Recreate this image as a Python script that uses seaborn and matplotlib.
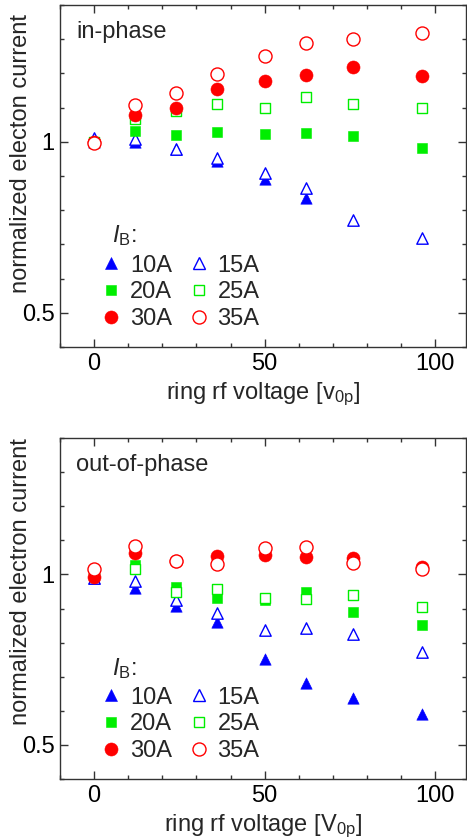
import numpy as np
import matplotlib
matplotlib.use("Agg")
import matplotlib.pyplot as plt
from matplotlib.lines import Line2D
from matplotlib.ticker import MultipleLocator
import seaborn as sns

# ---- data ----
voltage = [0, 12, 24, 36, 50, 62, 76, 96]
labels = ["10A", "15A", "20A", "25A", "30A", "35A"]

in_10 = [1.00, 0.998, 0.98, 0.945, 0.892, 0.836, np.nan, np.nan]
in_15 = [1.012, 1.008, 0.98, 0.954, 0.91, 0.864, 0.772, 0.72]
in_20 = [1.00, 1.032, 1.019, 1.028, 1.022, 1.026, 1.017, 0.983]
in_25 = [1.00, 1.066, 1.091, 1.11, 1.099, 1.131, 1.11, 1.10]
in_30 = [1.00, 1.078, 1.10, 1.155, 1.178, 1.196, 1.218, 1.193]
in_35 = [0.997, 1.108, 1.142, 1.199, 1.252, 1.288, 1.30, 1.317]

out_10 = [0.99, 0.96, 0.908, 0.859, 0.751, 0.681, 0.639, 0.591]
out_15 = [0.99, 0.982, 0.925, 0.888, 0.837, 0.842, 0.825, 0.771]
out_20 = [1.00, 1.028, 0.964, 0.932, 0.925, 0.947, 0.889, 0.852]
out_25 = [1.00, 1.015, 0.948, 0.957, 0.932, 0.927, 0.94, 0.904]
out_30 = [0.992, 1.062, 1.038, 1.055, 1.057, 1.052, 1.049, 1.023]
out_35 = [1.015, 1.084, 1.038, 1.03, 1.076, 1.081, 1.033, 1.017]

BLUE, GREEN, RED = "#0000ff", "#00ee00", "#ff0000"
styles = [  # marker, colour, filled, size(pt)
    ("^", BLUE, True, 8.2),
    ("^", BLUE, False, 8.2),
    ("s", GREEN, True, 7.4),
    ("s", GREEN, False, 7.4),
    ("o", RED, True, 9.4),
    ("o", RED, False, 9.4),
]

sns.set_theme(style="ticks")
plt.rcParams["font.family"] = ["Liberation Sans", "DejaVu Sans"]
plt.rcParams["mathtext.fontset"] = "custom"
plt.rcParams["mathtext.rm"] = "Liberation Sans"
plt.rcParams["mathtext.it"] = "Liberation Sans:italic"

FS = 17
fig = plt.figure(figsize=(4.67, 8.40), dpi=100)
ax1 = fig.add_axes([60/467, 1-347/840, 406/467, 342/840])
ax2 = fig.add_axes([60/467, 1-779/840, 406/467, 341/840])

panels = [
    (ax1, [in_10, in_15, in_20, in_25, in_30, in_35], "in-phase",
     "normalized electon current", r"ring rf voltage [v$_{\mathrm{0p}}$]", 0.567),
    (ax2, [out_10, out_15, out_20, out_25, out_30, out_35], "out-of-phase",
     "normalized electron current", r"ring rf voltage [V$_{\mathrm{0p}}$]", 0.58),
]

for ax, series, title, ylab, xlab, ylab_y in panels:
    for vals, (m, c, filled, ms) in zip(series, styles):
        sns.scatterplot(x=voltage, y=vals, ax=ax, marker=m, s=ms**2,
                        color=c if filled else "white", edgecolor=c,
                        linewidth=0.4 if filled else 1.0, legend=False,
                        zorder=3)
    ax.set_xlim(-10, 109)
    ax.set_ylim(0.4, 1.4)
    ax.xaxis.set_major_locator(MultipleLocator(50))
    ax.xaxis.set_minor_locator(MultipleLocator(10))
    ax.set_yticks([0.5, 1.0])
    ax.set_yticklabels(["0.5", "1"])
    ax.yaxis.set_minor_locator(MultipleLocator(0.1))
    ax.tick_params(which="both", direction="in", top=True, right=True,
                   width=1.0, color="#333333", labelsize=FS, labelcolor="black")
    ax.tick_params(which="major", length=6, pad=4)
    ax.tick_params(which="minor", length=3)
    for sp in ax.spines.values():
        sp.set_visible(True)
        sp.set_linewidth(1.0)
        sp.set_color("#333333")
    ax.set_ylabel(ylab, fontsize=FS)
    ax.yaxis.set_label_coords(-0.07, ylab_y)
    ax.set_xlabel(xlab, fontsize=FS, labelpad=4)
    ax.text(0.04, 0.92, title, transform=ax.transAxes, fontsize=FS,
            ha="left", va="center")

    handles = []
    for lab, (m, c, filled, ms) in zip(labels, styles):
        handles.append(Line2D([], [], linestyle="none", marker=m,
                              markersize=ms,
                              markerfacecolor=c if filled else "white",
                              markeredgecolor=c,
                              markeredgewidth=0.4 if filled else 1.0,
                              label=lab))
    order = [0, 2, 4, 1, 3, 5]
    ax.legend([handles[i] for i in order], [labels[i] for i in order],
              ncol=2, loc="lower left", bbox_to_anchor=(0.068, 0.008),
              frameon=False, fontsize=FS,
              handlelength=0.8, handletextpad=0.4, columnspacing=0.72,
              labelspacing=0.2, borderpad=0.1)
    ax.text((111.5 - 60) / 406, (347 - 236) / 342, r"$I$$_{\mathrm{B}}$:",
            transform=ax.transAxes, fontsize=FS, ha="left", va="center")

fig.savefig("out.png", dpi=100)
